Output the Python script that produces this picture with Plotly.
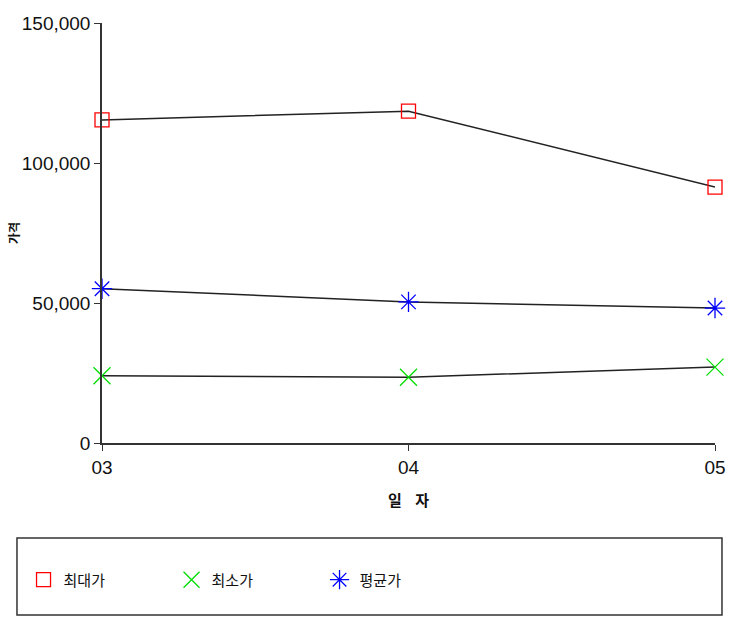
import plotly.graph_objects as go

dates = ["03", "04", "05"]
max_price = [115400, 118500, 91400]
min_price = [24000, 23500, 27100]
avg_price = [55100, 50400, 48200]
y_ticks = [0, 50000, 100000, 150000]
y_tick_labels = ["0", "50,000", "100,000", "150,000"]

series = [
    ("최대가", max_price, "#ff0000", "square-open", 14),
    ("최소가", min_price, "#00dd00", "x-thin-open", 17),
    ("평균가", avg_price, "#0000ff", "asterisk-open", 17),
]

fig = go.Figure()
for name, vals, col, sym, sz in series:
    fig.add_trace(go.Scatter(x=dates, y=vals, mode="lines", showlegend=False,
                             line=dict(color="#222222", width=1.5), cliponaxis=False,
                             hoverinfo="skip"))
for name, vals, col, sym, sz in series:
    fig.add_trace(go.Scatter(x=dates, y=vals, mode="markers", name=name,
                             marker=dict(symbol=sym, size=sz, color=col,
                                         line=dict(color=col, width=1.3)),
                             cliponaxis=False))

axis_font = dict(family="Liberation Sans, Arial, sans-serif", size=19, color="#111111")
kfont = "Noto Sans CJK KR, Noto Sans, sans-serif"

fig.update_layout(
    width=730, height=630,
    margin=dict(l=102, r=15, t=23, b=187, autoexpand=False),
    paper_bgcolor="white", plot_bgcolor="white",
    xaxis=dict(type="category", range=[0, 2], showgrid=False, zeroline=False,
               automargin=False,
               showline=True, linecolor="#333333", linewidth=1.5,
               ticks="outside", ticklen=6, tickcolor="#333333",
               tickfont=axis_font,
               title=dict(text="<b>일    자</b>", font=dict(family=kfont, size=15, color="#111111"), standoff=19)),
    yaxis=dict(range=[0, 150000], tickvals=y_ticks, ticktext=y_tick_labels,
               showgrid=False, zeroline=False, automargin=False,
               showline=True, linecolor="#333333", linewidth=1.5,
               ticks="outside", ticklen=6, tickcolor="#333333",
               tickfont=axis_font,
               title=dict(text="<b>가격</b>", font=dict(family=kfont, size=12, color="#111111"), standoff=0)),
    legend=dict(orientation="h", x=-0.128, xanchor="left", y=-0.326, yanchor="middle",
                entrywidth=103, entrywidthmode="pixels",
                font=dict(family=kfont, size=15, color="#111111"),
                bgcolor="rgba(0,0,0,0)", borderwidth=0),
    shapes=[dict(type="rect", xref="paper", yref="paper",
                 x0=-0.1387, x1=1.0114, y0=-0.4095, y1=-0.2262,
                 line=dict(color="#333333", width=1.5), fillcolor="rgba(0,0,0,0)")],
    showlegend=True,
)

fig.write_html("out.html", config={"displayModeBar": False},
               post_script="document.body.style.margin='0';document.body.style.overflow='hidden';")
